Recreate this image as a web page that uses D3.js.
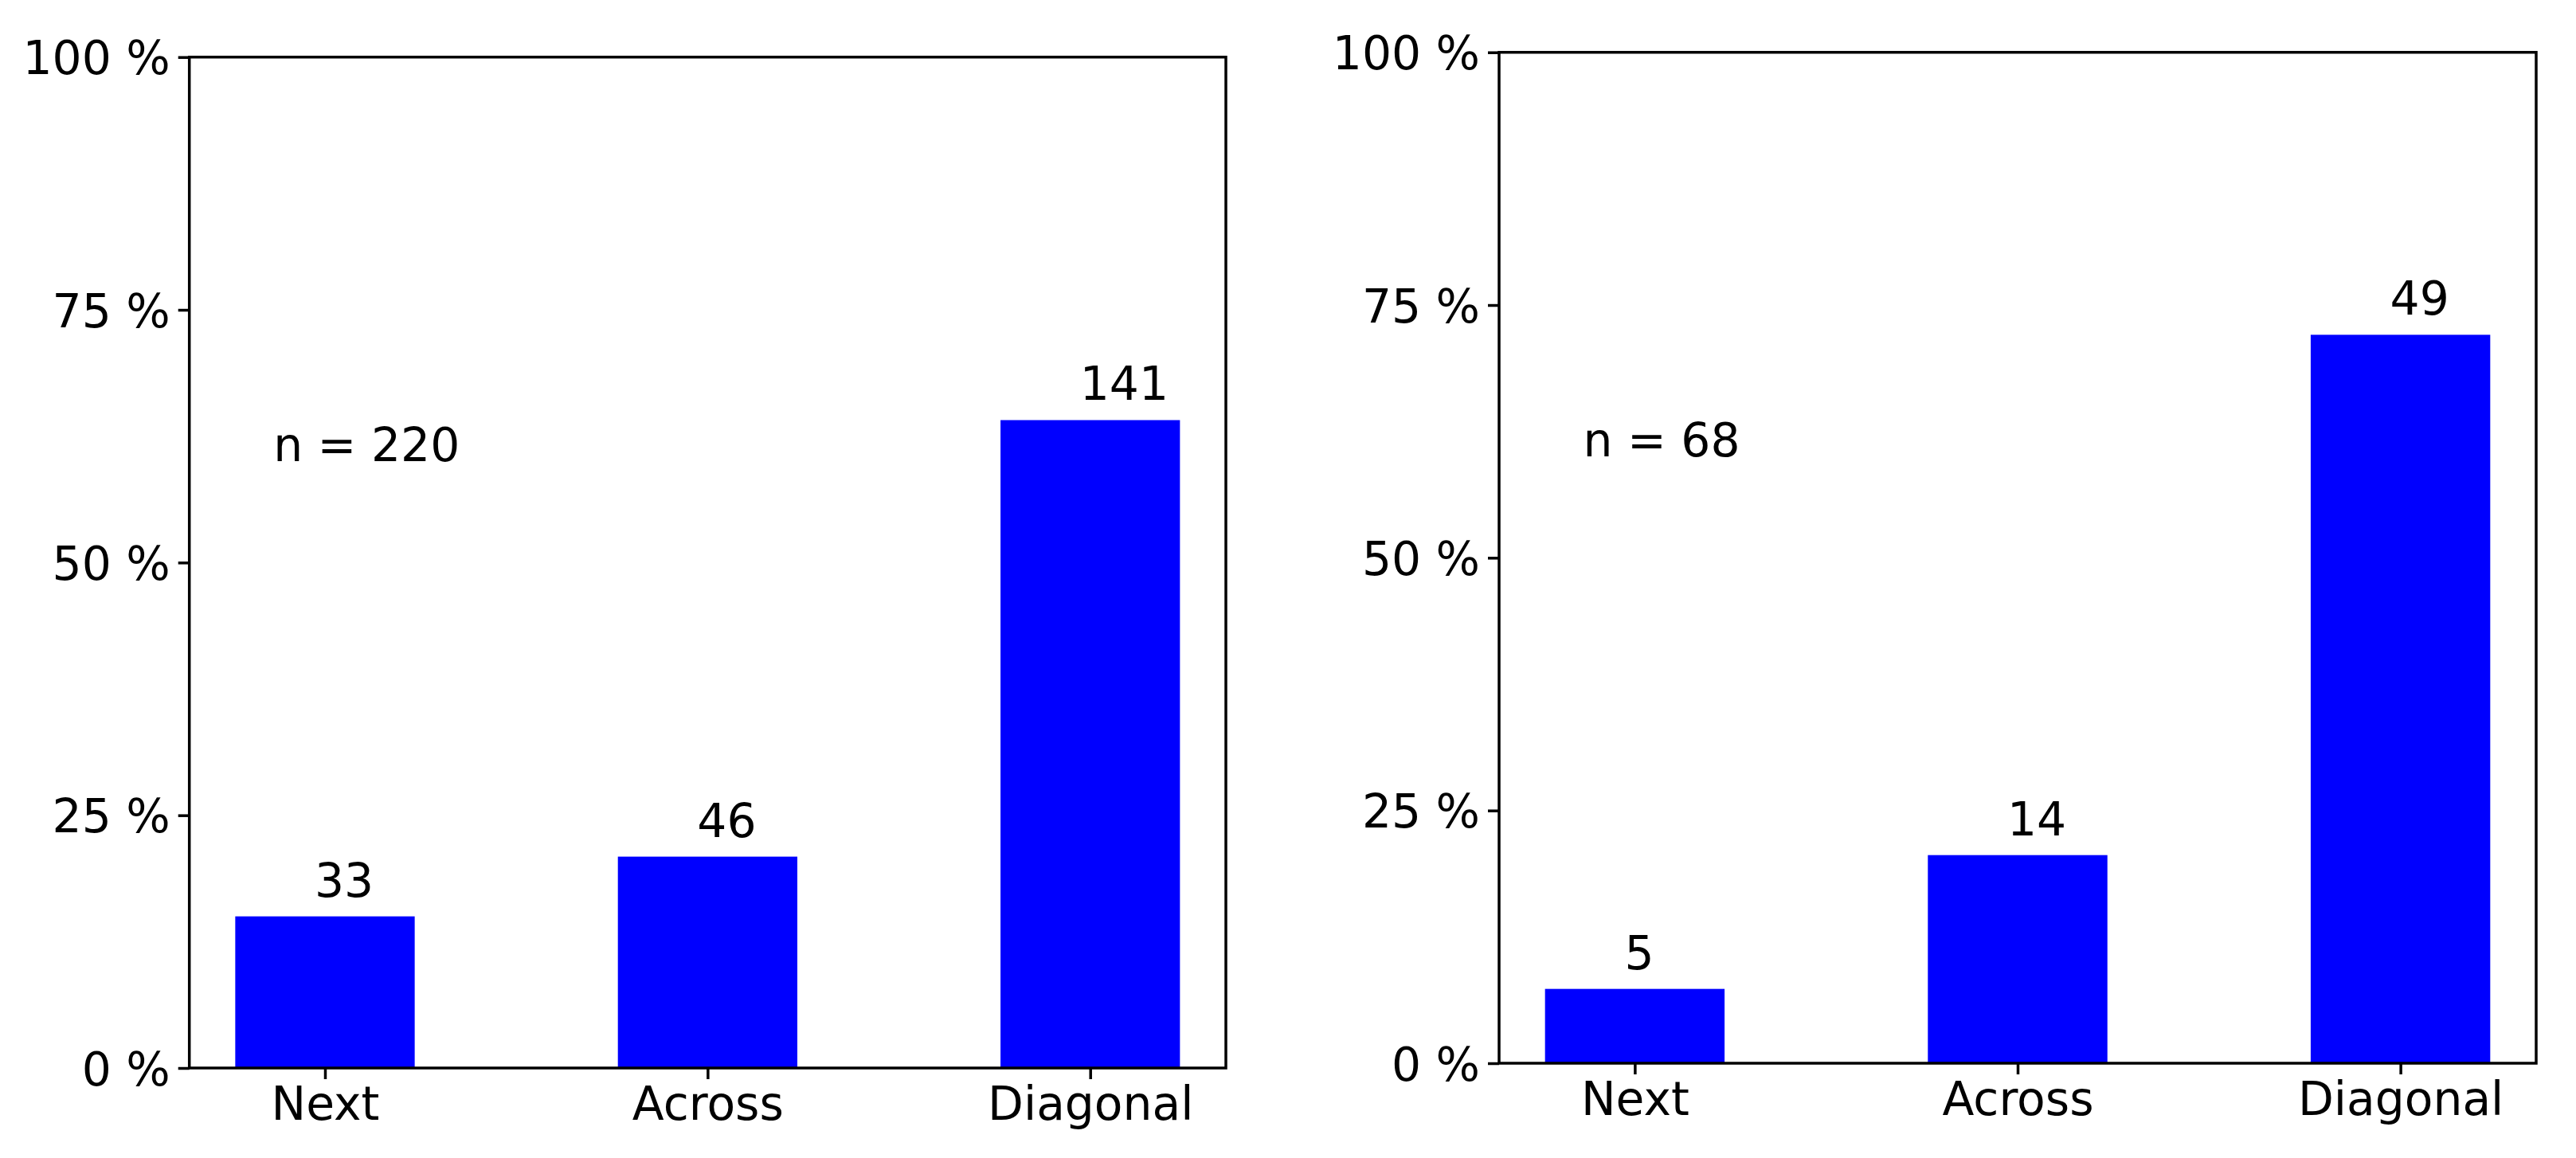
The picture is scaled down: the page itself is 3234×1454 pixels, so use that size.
<!DOCTYPE html>
<html>
<head>
<meta charset="utf-8">
<script src="https://cdn.jsdelivr.net/npm/d3@7"></script>
<style>
  html, body { margin: 0; padding: 0; background: #fff; }
  svg { display: block; }
  text { font-family: "DejaVu Sans", sans-serif; fill: #000; }
</style>
</head>
<body>
<svg id="chart" width="3234" height="1454"></svg>
<script>
// ---- data ----
const categories = ["Next", "Across", "Diagonal"];
const countsLeft = [33, 46, 141];
const totalLeft = 220;
const countsRight = [5, 14, 49];
const totalRight = 68;
const yTickValues = [0, 25, 50, 75, 100];
const yTickLabels = ["0 %", "25 %", "50 %", "75 %", "100 %"];

// ---- layout ----
const W = 3234, H = 1454;
const FS = 58.3;
const LW = 3.5;
const TICK = 14;
const panels = [
  { counts: countsLeft, total: totalLeft, x0: 237.7, x1: 1539, y0: 71.7, y1: 1341 },
  { counts: countsRight, total: totalRight, x0: 1882, x1: 3184, y0: 65.7, y1: 1335 }
];
const barW = 0.469;

const svg = d3.select("#chart");
svg.append("rect").attr("width", W).attr("height", H).attr("fill", "#fff");

panels.forEach(p => {
  const pct = p.counts.map(c => c / p.total * 100);
  const x = d3.scaleLinear().domain([-0.3545, 2.3545]).range([p.x0, p.x1]);
  const y = d3.scaleLinear().domain([0, 100]).range([p.y1, p.y0]);
  const g = svg.append("g");

  // bars
  g.selectAll("rect.bar").data(categories).enter().append("rect")
    .attr("class", "bar")
    .attr("x", (d, i) => x(i - barW / 2))
    .attr("width", (d, i) => x(i + barW / 2) - x(i - barW / 2))
    .attr("y", (d, i) => y(pct[i]))
    .attr("height", (d, i) => y(0) - y(pct[i]))
    .attr("fill", "#0000ff");

  // count labels
  g.selectAll("text.count").data(categories).enter().append("text")
    .attr("class", "count")
    .attr("x", (d, i) => x(i) - 13)
    .attr("y", (d, i) => y(pct[i]) - 25)
    .attr("font-size", FS)
    .attr("text-anchor", "start")
    .text((d, i) => p.counts[i]);

  // n label
  g.append("text")
    .attr("x", x(-0.135))
    .attr("y", y(60))
    .attr("font-size", FS)
    .text("n = " + p.total);

  // y axis ticks
  const yAxis = d3.axisLeft(y).tickValues(yTickValues)
    .tickFormat((d, i) => yTickLabels[i]).tickSizeInner(TICK).tickSizeOuter(0).tickPadding(10);
  const ya = g.append("g").attr("transform", `translate(${p.x0},0)`).call(yAxis);
  ya.select(".domain").remove();
  ya.selectAll("line").attr("stroke", "#000").attr("stroke-width", LW);
  ya.selectAll("text").attr("font-size", FS).attr("font-family", "DejaVu Sans")
    .attr("dy", "0.36em").attr("fill", "#000");

  // x axis ticks
  const xAxis = d3.axisBottom(x).tickValues([0, 1, 2])
    .tickFormat(i => categories[i]).tickSizeInner(TICK).tickSizeOuter(0).tickPadding(0);
  const xa = g.append("g").attr("transform", `translate(0,${p.y1})`).call(xAxis);
  xa.select(".domain").remove();
  xa.selectAll("line").attr("stroke", "#000").attr("stroke-width", LW);
  xa.selectAll("text").attr("font-size", FS).attr("font-family", "DejaVu Sans")
    .attr("y", 65).attr("dy", 0).attr("fill", "#000");

  // frame
  g.append("rect")
    .attr("x", p.x0).attr("y", p.y0)
    .attr("width", p.x1 - p.x0).attr("height", p.y1 - p.y0)
    .attr("fill", "none").attr("stroke", "#000").attr("stroke-width", LW);
});
</script>
</body>
</html>
